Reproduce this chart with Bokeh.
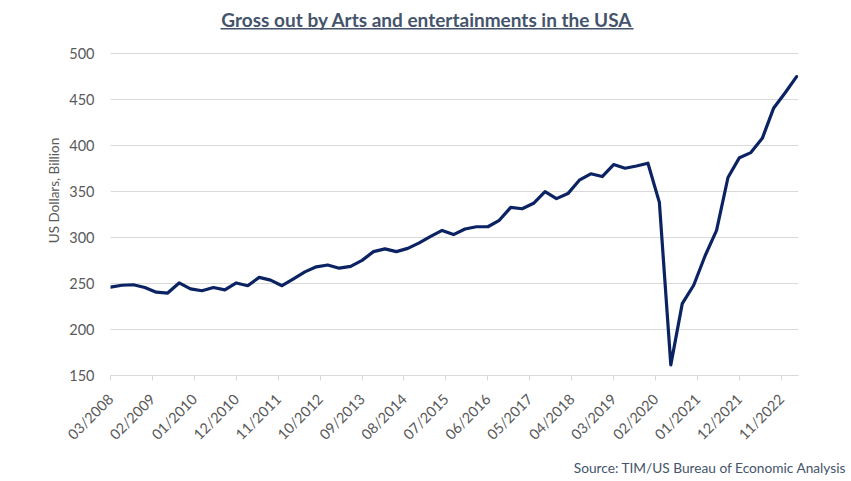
from bokeh.plotting import figure
from bokeh.models import FixedTicker, Label, BoxAnnotation, Range1d, ColumnDataSource, Title
from bokeh.embed import file_html
from bokeh.resources import INLINE

# Quarterly gross output (US$ billion), first quarter ending 03/2008
first_period = "03/2008"
gross_output = [246, 248, 248.5, 245.5, 240.5, 239.5, 250.5, 244, 242, 245.5,
                243, 250.5, 247.5, 256.5, 253.5, 247.5, 255, 262.5, 268, 270,
                266.5, 268.5, 275, 284.5, 287.5, 284.5, 288, 294, 301, 307.5,
                303, 309, 311.5, 311.5, 318.5, 332.5, 331, 337, 349.5, 342,
                347.5, 362, 369, 366, 379, 375, 377.5, 380.5, 338, 161.5,
                228, 248, 280, 307.5, 365, 386.5, 392, 407.5, 440.5, 457,
                474.5]

x_tick_labels = ["03/2008", "02/2009", "01/2010", "12/2010", "11/2011", "10/2012",
                 "09/2013", "08/2014", "07/2015", "06/2016", "05/2017", "04/2018",
                 "03/2019", "02/2020", "01/2021", "12/2021", "11/2022"]
y_ticks = [150, 200, 250, 300, 350, 400, 450, 500]

title_text = "Gross out by Arts and entertainments in the USA"
y_label = "US Dollars, Billion"
source_text = "Source: TIM/US Bureau of Economic Analysis"


def month_offset(label):
    m, y = label.split("/")
    m0, y0 = first_period.split("/")
    return (int(y) - int(y0)) * 12 + int(m) - int(m0)


months = [3 * i for i in range(len(gross_output))]
src = ColumnDataSource(dict(x=months, y=gross_output))

FONT = "Lato"
# frame extended upward (headroom above 500) so the title can sit inside it
p = figure(width=850, height=480, output_backend="svg", toolbar_location=None,
           x_range=Range1d(0, 180.5), y_range=Range1d(150, 551.7),
           min_border_left=110, min_border_right=52, min_border_top=5,
           min_border_bottom=102)
p.outline_line_color = None
p.background_fill_color = "white"
p.border_fill_color = "white"

p.line("x", "y", source=src, line_color="#0B2362", line_width=3.2,
       line_join="round", line_cap="round")

# grid
p.xgrid.grid_line_color = None
p.ygrid.grid_line_color = "#D9D9D9"
p.ygrid.grid_line_width = 1

# y axis
p.yaxis.ticker = FixedTicker(ticks=y_ticks)
p.yaxis.axis_line_color = None
p.yaxis.major_tick_line_color = None
p.yaxis.major_tick_in = 0
p.yaxis.major_tick_out = 0
p.yaxis.minor_tick_line_color = None
p.yaxis.minor_tick_out = 0
p.yaxis.major_label_standoff = 16
p.yaxis.major_label_text_font = FONT
p.yaxis.major_label_text_font_size = "14.5px"
p.yaxis.major_label_text_color = "#595959"
p.yaxis.axis_label = y_label
p.yaxis.axis_label_text_font = FONT
p.yaxis.axis_label_text_font_style = "normal"
p.yaxis.axis_label_text_font_size = "13.5px"
p.yaxis.axis_label_text_color = "#595959"
p.yaxis.axis_label_standoff = 4

# x axis
tick_pos = [month_offset(s) for s in x_tick_labels]
p.xaxis.ticker = FixedTicker(ticks=tick_pos)
p.xaxis.major_label_overrides = {t: s for t, s in zip(tick_pos, x_tick_labels)}
p.xaxis.major_label_orientation = 0.785398
p.xaxis.axis_line_color = "#D9D9D9"
p.xaxis.major_tick_line_color = "#D9D9D9"
p.xaxis.major_tick_in = 0
p.xaxis.major_tick_out = 5
p.xaxis.minor_tick_line_color = None
p.xaxis.major_label_standoff = 16
p.xaxis.major_label_text_font = FONT
p.xaxis.major_label_text_font_size = "14.5px"
p.xaxis.major_label_text_color = "#595959"

# title + underline inside the (extended) frame, screen units from frame bottom-left
p.add_layout(Label(x=316.5, y=356, x_units="screen", y_units="screen",
                   text=title_text, text_font=FONT, text_font_style="bold",
                   text_font_size="19px", text_color="#44546A",
                   text_align="center", text_baseline="alphabetic"))
p.add_layout(BoxAnnotation(left=110, right=523, top=347.5, bottom=346,
                           left_units="screen", right_units="screen",
                           top_units="screen", bottom_units="screen",
                           fill_color="#44546A", fill_alpha=1, line_color=None))

# source note below the axis
p.add_layout(Title(text=source_text, align="right", offset=-48, standoff=10,
                   text_font=FONT, text_font_style="normal",
                   text_font_size="13.7px", text_color="#44546A"), "below")

open("out.html", "w").write(file_html(p, INLINE))
